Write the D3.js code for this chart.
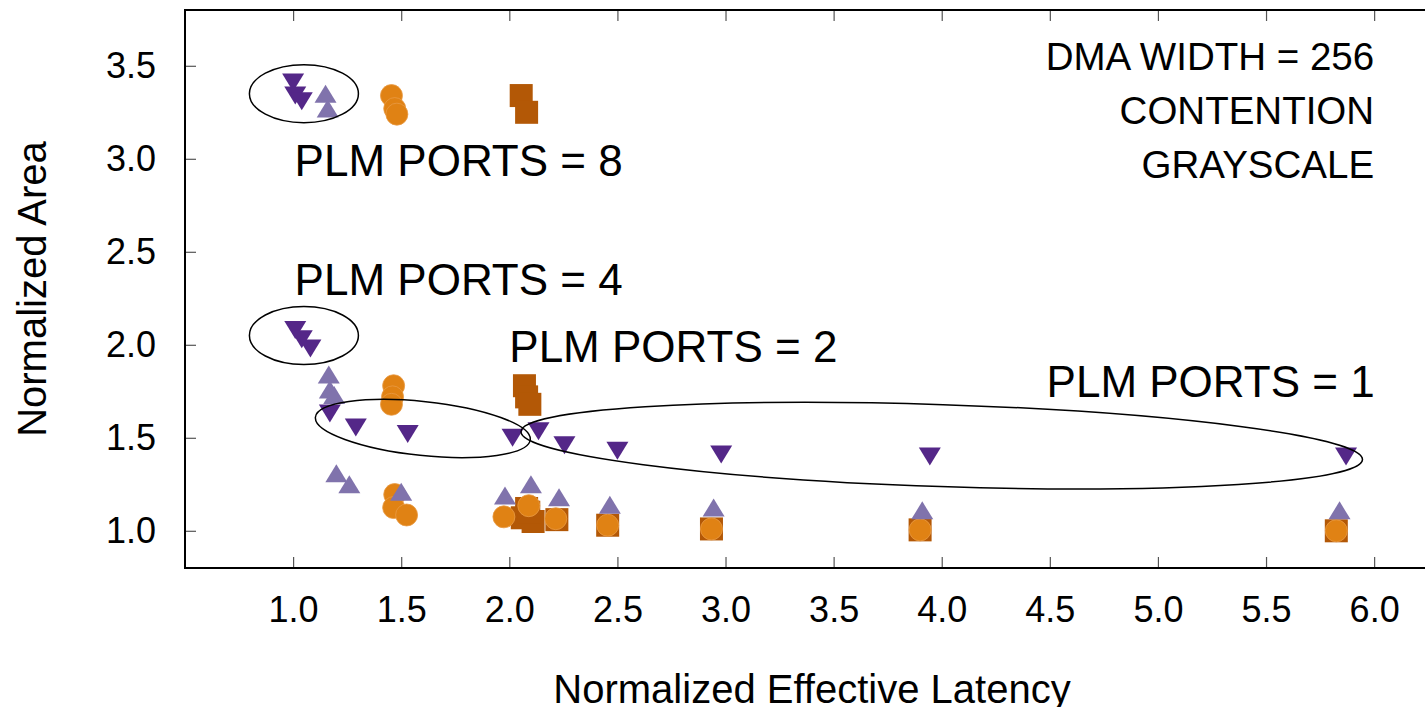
<!DOCTYPE html>
<html>
<head>
<meta charset="utf-8">
<script src="https://cdn.jsdelivr.net/npm/d3@7"></script>
<style>
  body { margin: 0; background: #fff; }
  svg { display: block; overflow: hidden; }
  text { font-family: "Liberation Sans", Arial, Helvetica, sans-serif; fill: #000; }
</style>
</head>
<body>
<script>
// series: [latency, area]
var downTri = [
  [1.00, 3.41], [1.01, 3.34], [1.04, 3.31],
  [1.01, 2.08], [1.04, 2.03], [1.08, 1.98],
  [1.17, 1.63], [1.29, 1.555], [1.53, 1.52], [2.015, 1.50],
  [2.135, 1.535], [2.255, 1.46], [2.50, 1.43], [2.98, 1.41], [3.945, 1.40], [5.87, 1.40]
];
var upTri = [
  [1.15, 3.35], [1.16, 3.27],
  [1.165, 1.84], [1.17, 1.76], [1.19, 1.73],
  [1.20, 1.31], [1.26, 1.25], [1.50, 1.21], [1.98, 1.19], [2.10, 1.25],
  [2.23, 1.18], [2.465, 1.14], [2.945, 1.125], [3.91, 1.11], [5.84, 1.11]
];
var circles = [
  [1.455, 3.34], [1.47, 3.27], [1.48, 3.24],
  [1.465, 1.78], [1.46, 1.72], [1.455, 1.68],
  [1.47, 1.195], [1.465, 1.125], [1.525, 1.085], [1.975, 1.075], [2.09, 1.135],
  [2.215, 1.065], [2.455, 1.03], [2.935, 1.01], [3.90, 1.005], [5.825, 1.00]
];
var squares = [
  [2.055, 3.34], [2.08, 3.25],
  [2.07, 1.78], [2.08, 1.72], [2.095, 1.68],
  [2.08, 1.12], [2.06, 1.07], [2.11, 1.05], [2.09, 1.10], [2.22, 1.06],
  [2.455, 1.03], [2.935, 1.01], [3.90, 1.005], [5.825, 1.00]
];

var xTicks = [1.0, 1.5, 2.0, 2.5, 3.0, 3.5, 4.0, 4.5, 5.0, 5.5, 6.0];
var yTicks = [1.0, 1.5, 2.0, 2.5, 3.0, 3.5];

// ellipses: centre (data), radii (px), rotation (deg)
var ellipses = [
  { cx: 1.05, cy: 3.35, rx: 54.5, ry: 29, rot: 0 },
  { cx: 1.05, cy: 2.05, rx: 54.5, ry: 29, rot: 0 },
  { cx: 1.60, cy: 1.55, rx: 108, ry: 27, rot: 6 },
  { cx: 4.00, cy: 1.458, rx: 421, ry: 41, rot: 1.9 }
];
var plmLabels = [
  { x: 1.007, y: 2.91, t: "PLM PORTS = 8" },
  { x: 1.007, y: 2.27, t: "PLM PORTS = 4" },
  { x: 2.0, y: 1.905, t: "PLM PORTS = 2" },
  { x: 4.485, y: 1.722, t: "PLM PORTS = 1" }
];
var infoLines = ["DMA WIDTH = 256", "CONTENTION", "GRAYSCALE"];

var W = 1425, H = 707;
var pLeft = 185, pTop = 10, pBottom = 568, pRight = 1439;

var x = d3.scaleLinear().domain([0.5, 6.3]).range([pLeft, pRight]);
var y = d3.scaleLinear().domain([0.8, 3.8]).range([pBottom, pTop]);

var svg = d3.select("body").append("svg")
    .attr("width", W)
    .attr("height", H);

// ticks (inward, mirrored)
svg.append("g")
    .attr("transform", "translate(0," + pBottom + ")")
    .call(d3.axisBottom(x).tickValues(xTicks).tickSize(-11).tickPadding(28).tickFormat(d3.format(".1f")))
    .call(function(g) {
      g.select(".domain").remove();
      g.selectAll(".tick line").attr("stroke", "#555").attr("stroke-width", 1.2);
      g.selectAll(".tick text").attr("font-size", 36).attr("dy", "0.71em")
        .attr("font-family", "Liberation Sans, Arial, sans-serif").attr("fill", "#000");
    });

svg.append("g")
    .attr("transform", "translate(0," + pTop + ")")
    .call(d3.axisTop(x).tickValues(xTicks).tickSize(-11).tickFormat(""))
    .call(function(g) {
      g.select(".domain").remove();
      g.selectAll(".tick line").attr("stroke", "#555").attr("stroke-width", 1.2);
    });

svg.append("g")
    .attr("transform", "translate(" + pLeft + ",0)")
    .call(d3.axisLeft(y).tickValues(yTicks).tickSize(-11).tickPadding(29).tickFormat(d3.format(".1f")))
    .call(function(g) {
      g.select(".domain").remove();
      g.selectAll(".tick line").attr("stroke", "#555").attr("stroke-width", 1.2);
      g.selectAll(".tick text").attr("font-size", 36)
        .attr("font-family", "Liberation Sans, Arial, sans-serif").attr("fill", "#000");
    });

// frame
svg.append("rect")
    .attr("x", pLeft).attr("y", pTop)
    .attr("width", pRight - pLeft).attr("height", pBottom - pTop)
    .attr("fill", "none").attr("stroke", "#000").attr("stroke-width", 2);

// markers
var plot = svg.append("g");

plot.selectAll(".sq").data(squares).enter().append("rect")
    .attr("x", function(d) { return x(d[0]) - 11.5; })
    .attr("y", function(d) { return y(d[1]) - 11.5; })
    .attr("width", 23).attr("height", 23)
    .attr("fill", "#b35806");

plot.selectAll(".ci").data(circles).enter().append("circle")
    .attr("cx", function(d) { return x(d[0]); })
    .attr("cy", function(d) { return y(d[1]); })
    .attr("r", 11)
    .attr("fill", "#e08214")
    .attr("stroke", "#e89a45").attr("stroke-width", 0.8);

function triPath(up) {
  var w = 11, h = 9;
  return up ? "M0," + (-h) + "L" + w + "," + h + "L" + (-w) + "," + h + "Z"
            : "M0," + h + "L" + w + "," + (-h) + "L" + (-w) + "," + (-h) + "Z";
}

plot.selectAll(".up").data(upTri).enter().append("path")
    .attr("d", triPath(true))
    .attr("transform", function(d) { return "translate(" + x(d[0]) + "," + y(d[1]) + ")"; })
    .attr("fill", "#8073ac");

plot.selectAll(".dn").data(downTri).enter().append("path")
    .attr("d", triPath(false))
    .attr("transform", function(d) { return "translate(" + x(d[0]) + "," + y(d[1]) + ")"; })
    .attr("fill", "#542788");

// ellipses
svg.selectAll(".ell").data(ellipses).enter().append("ellipse")
    .attr("transform", function(d) { return "translate(" + x(d.cx) + "," + y(d.cy) + ") rotate(" + d.rot + ")"; })
    .attr("rx", function(d) { return d.rx; })
    .attr("ry", function(d) { return d.ry; })
    .attr("fill", "none").attr("stroke", "#000").attr("stroke-width", 1.5);

// labels
svg.selectAll(".plm").data(plmLabels).enter().append("text")
    .attr("x", function(d) { return x(d.x); })
    .attr("y", function(d) { return y(d.y); })
    .attr("font-size", 44)
    .text(function(d) { return d.t; });

svg.selectAll(".info").data(infoLines).enter().append("text")
    .attr("x", x(6.0))
    .attr("y", function(d, i) { return 70 + i * 54; })
    .attr("text-anchor", "end")
    .attr("font-size", 38.5)
    .text(function(d) { return d; });

// axis titles
svg.append("text")
    .attr("x", 812)
    .attr("y", 703)
    .attr("text-anchor", "middle")
    .attr("font-size", 40)
    .text("Normalized Effective Latency");

svg.append("text")
    .attr("transform", "translate(46," + ((pTop + pBottom) / 2) + ") rotate(-90)")
    .attr("text-anchor", "middle")
    .attr("font-size", 40)
    .text("Normalized Area");
</script>
</body>
</html>
